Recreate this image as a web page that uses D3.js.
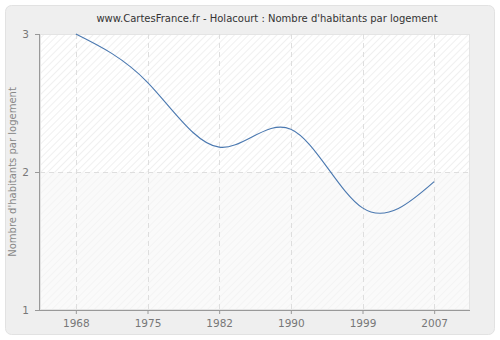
<!DOCTYPE html>
<html><head><meta charset="utf-8">
<script src="https://cdn.jsdelivr.net/npm/d3@7/dist/d3.min.js"></script>
<style>body{margin:0;background:#fff}svg{display:block}</style>
</head><body>
<svg id="c" width="500" height="340"></svg>
<script>
const years = ["1968","1975","1982","1990","1999","2007"];
const values = [3.0, 2.65, 2.18, 2.31, 1.74, 1.93];
const yTicks = [1, 2, 3];
const title = "www.CartesFrance.fr - Holacourt : Nombre d'habitants par logement";
const yLabel = "Nombre d'habitants par logement";

const svg = d3.select("#c");
const m = {l:40, r:470, t:34, b:310};
const font = "DejaVu Sans, Verdana, sans-serif";

const defs = svg.append("defs");
function hatch(id, bg, line){
  const p = defs.append("pattern").attr("id", id).attr("patternUnits","userSpaceOnUse")
    .attr("width",5).attr("height",5).attr("patternTransform","rotate(45)");
  p.append("rect").attr("width",5).attr("height",5).attr("fill",bg);
  p.append("line").attr("x1",0).attr("y1",0).attr("x2",0).attr("y2",5).attr("stroke",line).attr("stroke-width",1.5);
}
hatch("h1","#ffffff","#ececec");
hatch("h2","#fafafa","#f2f2f2");

svg.append("rect").attr("x",5.5).attr("y",5.5).attr("width",489).attr("height",329)
  .attr("rx",6).attr("fill","#efefef").attr("stroke","#e2e2e2");

const x = d3.scalePoint().domain(years).range([m.l, m.r]).padding(0.5);
const y = d3.scaleLinear().domain([1,3]).range([m.b, m.t]);

svg.append("rect").attr("x",m.l).attr("y",y(3)).attr("width",m.r-m.l).attr("height",y(2)-y(3)).attr("fill","url(#h1)");
svg.append("rect").attr("x",m.l).attr("y",y(2)).attr("width",m.r-m.l).attr("height",y(1)-y(2)).attr("fill","url(#h2)");
svg.append("rect").attr("x",m.l+0.5).attr("y",m.t+0.5).attr("width",m.r-m.l-1).attr("height",m.b-m.t-1)
  .attr("fill","none").attr("stroke","#e4e4e4");

// gridlines
svg.append("g").selectAll("line").data(years).join("line")
  .attr("x1",d=>Math.round(x(d))+0.5).attr("x2",d=>Math.round(x(d))+0.5)
  .attr("y1",m.t).attr("y2",m.b)
  .attr("stroke","#dedede").attr("stroke-dasharray","5,4");
svg.append("g").selectAll("line").data(yTicks.filter(v=>v>1&&v<3)).join("line")
  .attr("x1",m.l).attr("x2",m.r)
  .attr("y1",d=>Math.round(y(d))+0.5).attr("y2",d=>Math.round(y(d))+0.5)
  .attr("stroke","#dedede").attr("stroke-dasharray","5,4");

// axes
const xa = svg.append("g").attr("transform",`translate(0,${m.b})`)
  .call(d3.axisBottom(x).tickSizeInner(4).tickSizeOuter(0).tickPadding(6));
const ya = svg.append("g").attr("transform",`translate(${m.l},0)`)
  .call(d3.axisLeft(y).tickValues(yTicks).tickFormat(d3.format("d")).tickSizeInner(5).tickSizeOuter(0).tickPadding(6));
[xa, ya].forEach(a=>{
  a.select(".domain").attr("stroke","#999");
  a.selectAll(".tick line").attr("stroke","#999");
  a.selectAll("text").attr("fill","#777").style("font-family",font).style("font-size","10.5px");
});
xa.select(".domain").attr("d",`M${m.l},0.5H${m.r}`);
ya.select(".domain").attr("d",`M-0.5,${m.t}V${m.b}`);

// line
const line = d3.line().x((d,i)=>x(years[i])).y(d=>y(d)).curve(d3.curveNatural);
svg.append("path").datum(values).attr("d",line).attr("fill","none")
  .attr("stroke","#4a78b0").attr("stroke-width",1.1);

svg.append("text").attr("x",267).attr("y",22).attr("text-anchor","middle")
  .style("font-family",font).style("font-size","10px").attr("fill","#333").text(title);
svg.append("text").attr("transform",`translate(16,${(m.t+m.b)/2}) rotate(-90)`).attr("text-anchor","middle")
  .style("font-family",font).style("font-size","10px").attr("fill","#888").text(yLabel);
</script>
</body></html>
